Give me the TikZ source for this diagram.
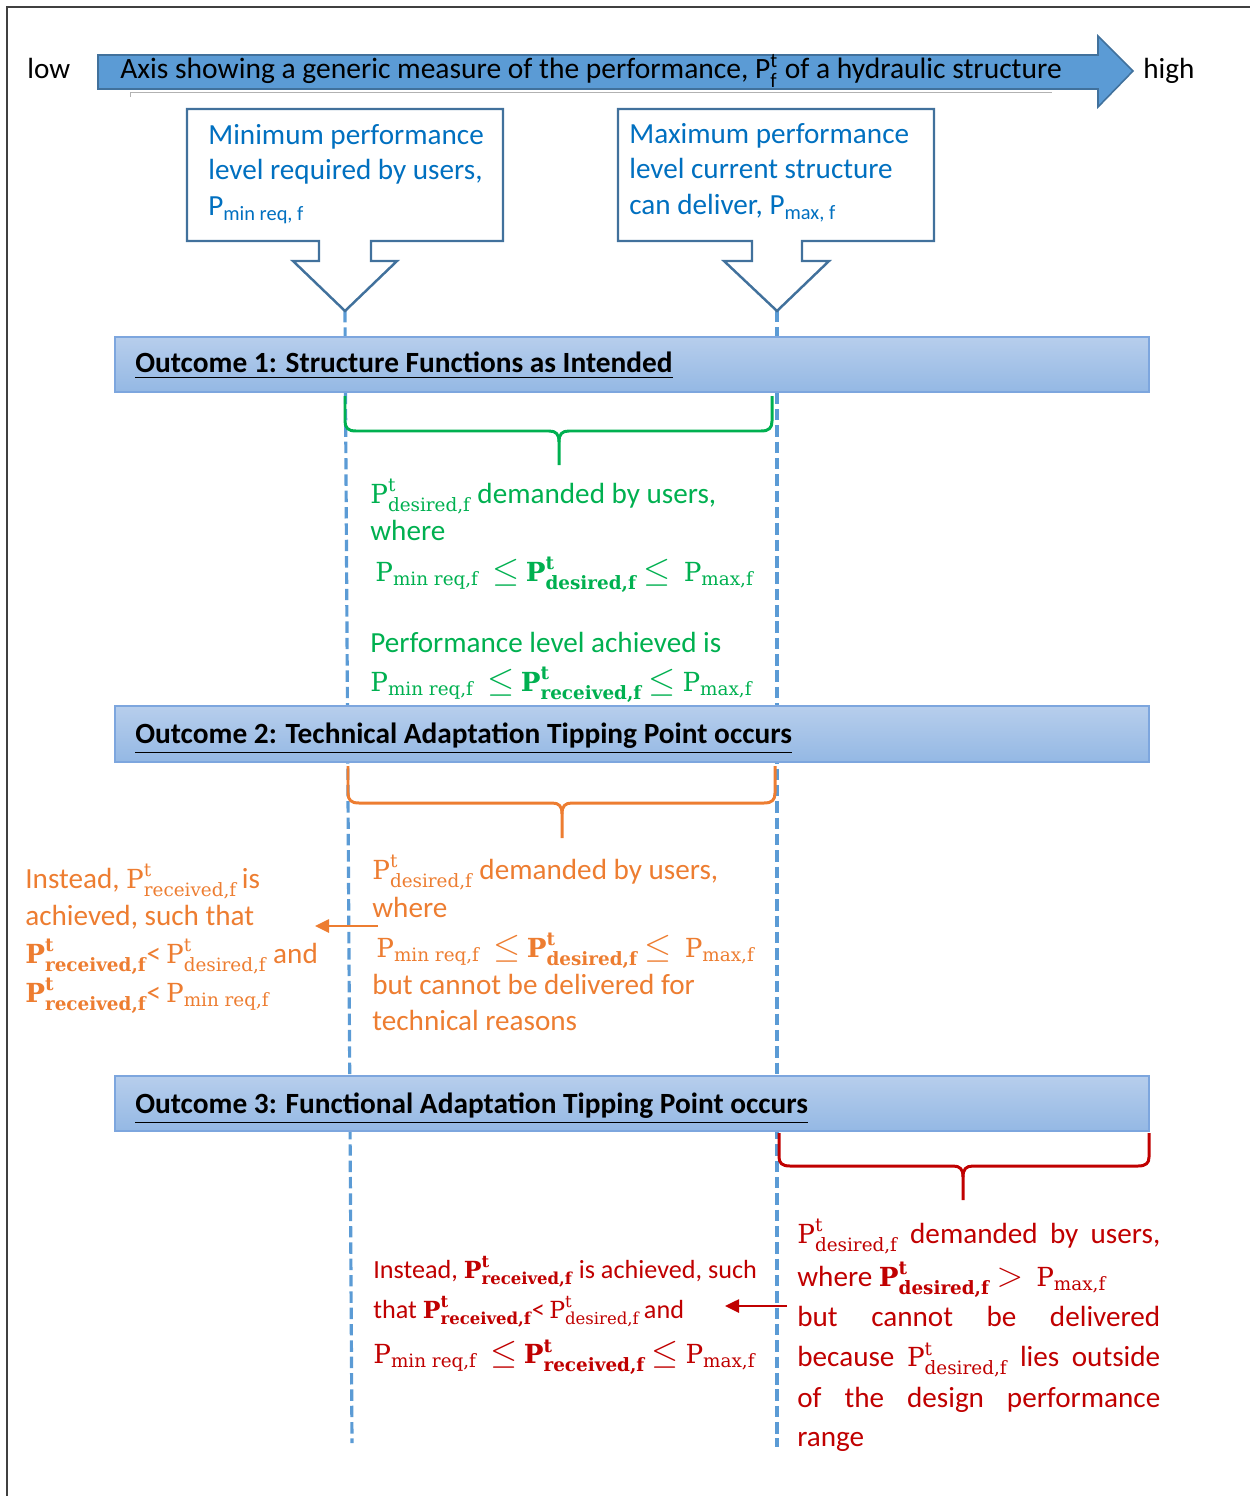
\documentclass[tikz,border=0pt]{standalone}
\usepackage{amsmath}
\usepackage{graphicx}
\usepackage{fontspec}
\newfontfamily\cb{Carlito}
\newfontfamily\mfont[Scale=0.9]{DejaVu Serif}
\usetikzlibrary{arrows.meta}

\definecolor{axisfill}{RGB}{91,155,213}
\definecolor{axisdraw}{RGB}{65,113,156}
\definecolor{calloutdraw}{RGB}{65,113,156}
\definecolor{bluetext}{RGB}{0,112,192}
\definecolor{gtext}{RGB}{0,176,80}
\definecolor{otext}{RGB}{237,125,49}
\definecolor{rtext}{RGB}{192,0,0}
\definecolor{dashblue}{RGB}{91,155,213}
\definecolor{bartop}{RGB}{183,206,236}
\definecolor{barbot}{RGB}{148,184,228}
\definecolor{bardraw}{RGB}{125,166,222}
\definecolor{framegray}{RGB}{64,64,64}

% symbols for the performance levels, set in a serif face
\newcommand{\sym}[1]{\text{\mfont #1}}
\newcommand{\symb}[1]{\text{\mfont\bfseries #1}}
\newcommand{\PdesN}{\ensuremath{\sym{P}^{\sym{t}}_{\sym{desired,f}}}}
\newcommand{\PdesB}{\ensuremath{\symb{P}^{\symb{t}}_{\symb{desired,f}}}}
\newcommand{\PrecN}{\ensuremath{\sym{P}^{\sym{t}}_{\sym{received,f}}}}
\newcommand{\PrecB}{\ensuremath{\symb{P}^{\symb{t}}_{\symb{received,f}}}}
\newcommand{\PminN}{\ensuremath{\sym{P}_{\sym{min req,f}}}}
\newcommand{\PmaxN}{\ensuremath{\sym{P}_{\sym{max,f}}}}
\newcommand{\lesym}{\scalebox{1.15}{$\leq$}}
\newcommand{\gtsym}{\scalebox{1.15}{$>$}}

\begin{document}
\begin{tikzpicture}[x=0.02cm,y=-0.02cm,
  txt/.style={anchor=base west, inner sep=0pt, font=\cb\fontsize{16.6}{20}\selectfont},
  smalltxt/.style={anchor=base west, inner sep=0pt, font=\cb\fontsize{14.9}{18}\selectfont},
  bartxt/.style={anchor=base west, inner sep=0pt, font=\cb\bfseries\fontsize{16.7}{20}\selectfont},
  callout/.style={draw=calloutdraw, fill=white, line width=1.4pt, line join=miter},
  outbar/.style={draw=bardraw, line width=0.8pt, top color=bartop, bottom color=barbot},
  guide/.style={draw=dashblue, line width=1.8pt, dash pattern=on 6.5pt off 2.8pt},
  brace/.style={line width=1.7pt, line join=round},
  pointer/.style={line width=1.3pt, -{Triangle[length=8pt,width=7.5pt]}}
]
\useasboundingbox (0,0) rectangle (1250,1496);

% frame
\draw[framegray, line width=1.1pt] (7,1496) -- (7,7) -- (1250,7);

% performance axis with its faint shadow edge
\draw[black!30, line width=0.5pt] (130,97) -- (130,92) -- (1052,92);
\draw[fill=axisfill, draw=axisdraw, line width=0.9pt]
  (98,55) -- (1098,55) -- (1098,36) -- (1133,71) -- (1098,107) -- (1098,89) -- (98,89) -- cycle;
\node[txt, font=\cb\fontsize{16.8}{20}\selectfont] (axis) at (120,79) {Axis showing a generic measure of the performance, P$^{\text{t}}_{\text{f}}$ of a hydraulic structure};
\node[txt] (low) at (27,79) {low};
\node[txt] (high) at (1143,79) {high};

% vertical guide lines
\draw[guide] (345,311) -- (352,1443);
\draw[guide] (777,311) -- (777,1447);

% callouts
\draw[callout] (187,109) -- (503,109) -- (503,241) -- (371,241) -- (371,261) -- (397,261)
  -- (345,311) -- (293,261) -- (319,261) -- (319,241) -- (187,241) -- cycle;
\draw[callout] (618,109) -- (934,109) -- (934,241) -- (802,241) -- (802,261) -- (829,261)
  -- (777,311) -- (724,261) -- (752,261) -- (752,241) -- (618,241) -- cycle;
\node[txt, text=bluetext] (mina) at (208,145) {Minimum performance};
\node[txt, text=bluetext] (minb) at (208,180) {level required by users,};
\node[txt, text=bluetext] (minc) at (208,216) {P\textsubscript{min req, f}};
\node[txt, text=bluetext] (maxa) at (629,144) {Maximum performance};
\node[txt, text=bluetext] (maxb) at (629,179) {level current structure};
\node[txt, text=bluetext] (maxc) at (629,215) {can deliver, P\textsubscript{max, f}};

% outcome bars
\draw[outbar] (115,337) rectangle (1149,392);
\draw[outbar] (115,706) rectangle (1149,762);
\draw[outbar] (115,1076) rectangle (1149,1131);
\node[bartxt] (o1) at (135,373) {\underline{Outcome 1: Structure Functions as Intended}};
\node[bartxt] (o2) at (135,743) {\underline{Outcome 2: Technical Adaptation Tipping Point occurs}};
\node[bartxt] (o3) at (135,1113) {\underline{Outcome 3: Functional Adaptation Tipping Point occurs}};

% braces
\draw[brace, gtext] (345,396) -- (345,421) .. controls (345,428) and (348,431) .. (356,431)
  -- (549,431) .. controls (556,431) and (559,434) .. (559,442) -- (559,465);
\draw[brace, gtext] (772,396) -- (772,421) .. controls (772,428) and (769,431) .. (761,431)
  -- (569,431) .. controls (562,431) and (559,434) .. (559,442);
\draw[brace, otext] (348,766) -- (348,793) .. controls (348,800) and (351,803) .. (359,803)
  -- (552,803) .. controls (559,803) and (562,806) .. (562,814) -- (562,838);
\draw[brace, otext] (775,766) -- (775,793) .. controls (775,800) and (772,803) .. (764,803)
  -- (572,803) .. controls (565,803) and (562,806) .. (562,814);
\draw[brace, rtext] (779,1133) -- (779,1157) .. controls (779,1163) and (782,1166) .. (790,1166)
  -- (953,1166) .. controls (960,1166) and (963,1169) .. (963,1177) -- (963,1200);
\draw[brace, rtext] (1149,1133) -- (1149,1157) .. controls (1149,1163) and (1146,1166) .. (1138,1166)
  -- (973,1166) .. controls (966,1166) and (963,1169) .. (963,1177);

% outcome 1 text
\node[txt, text=gtext] (g1) at (370,503) {\PdesN{} demanded by users,};
\node[txt, text=gtext] (g2) at (370,540) {where};
\node[txt, text=gtext] (g3) at (375,581) {\PminN{}\ \ \lesym{} \PdesB{} \lesym{}\ \ \PmaxN};
\node[txt, text=gtext] (g4) at (370,652) {Performance level achieved is};
\node[txt, text=gtext] (g5) at (370,691) {\PminN{}\ \ \lesym{} \PrecB{} \lesym{} \PmaxN};

% outcome 2 text
\node[txt, text=otext] (om1) at (372,879) {\PdesN{} demanded by users,};
\node[txt, text=otext] (om2) at (372,917) {where};
\node[txt, text=otext] (om3) at (376,957) {\PminN{}\ \ \lesym{} \PdesB{} \lesym{}\ \ \PmaxN};
\node[txt, text=otext] (om4) at (372,994) {but cannot be delivered for};
\node[txt, text=otext] (om5) at (372,1030) {technical reasons};

\node[txt, text=otext] (ol1) at (25,888) {Instead, \PrecN\,is};
\node[txt, text=otext] (ol2) at (25,925) {achieved, such that};
\node[txt, text=otext] (ol3) at (25,963) {\PrecB<\,\PdesN{} and};
\node[txt, text=otext] (ol4) at (25,1002) {\PrecB<\,\PminN};

\coordinate (oaS) at (378,926);
\coordinate (oaE) at (315,926);
\draw[pointer, otext] (oaS) -- (oaE);

% outcome 3 text
\node[smalltxt, text=rtext] (rm1) at (373,1278) {Instead, \PrecB{} is achieved, such};
\node[smalltxt, text=rtext] (rm2) at (373,1318) {that \PrecB<\,\PdesN\,and};
\node[txt, text=rtext] (rm3) at (373,1363) {\PminN{}\ \ \lesym{} \PrecB{} \lesym{} \PmaxN};

\node[txt, text=rtext] (rr1) at (797,1243) {\makebox[7.26cm][s]{\PdesN{} demanded by users,}};
\node[txt, text=rtext] (rr2) at (797,1286) {where \PdesB{} \gtsym{}\ \ \PmaxN};
\node[txt, text=rtext] (rr3) at (797,1326) {\makebox[7.26cm][s]{but cannot be delivered}};
\node[txt, text=rtext] (rr4) at (797,1366) {\makebox[7.26cm][s]{because \PdesN{} lies outside}};
\node[txt, text=rtext] (rr5) at (797,1407) {\makebox[7.26cm][s]{of the design performance}};
\node[txt, text=rtext] (rr6) at (797,1446) {range};

\coordinate (raS) at (787,1306);
\coordinate (raE) at (725,1306);
\draw[pointer, rtext] (raS) -- (raE);

\end{tikzpicture}
\end{document}
